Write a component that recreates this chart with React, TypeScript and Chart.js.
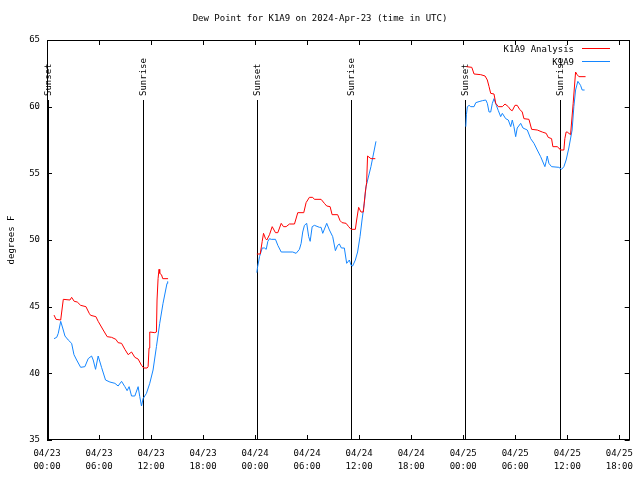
import React, { useEffect, useRef } from 'react';
import { Chart, registerables } from 'chart.js';

Chart.register(...registerables);

const TITLE = 'Dew Point for K1A9 on 2024-Apr-23 (time in UTC)';
const Y_TITLE = 'degrees F';
const SERIES_NAMES = ['K1A9 Analysis', 'K1A9'];
const SERIES_COLORS = ['#ff0000', '#1486ff'];

const X_MIN = 0;
const X_MAX = 67.2;
const X_TICK_HOURS = [0, 6, 12, 18, 24, 30, 36, 42, 48, 54, 60, 66];
const X_TICK_DATES = ['04/23', '04/23', '04/23', '04/23', '04/24', '04/24', '04/24', '04/24', '04/25', '04/25', '04/25', '04/25'];
const X_TICK_TIMES = ['00:00', '06:00', '12:00', '18:00', '00:00', '06:00', '12:00', '18:00', '00:00', '06:00', '12:00', '18:00'];
const Y_TICKS = [35, 40, 45, 50, 55, 60, 65];

const SUN_EVENT_HOURS = [0.12, 11.05, 24.2, 35.1, 48.2, 59.15];
const SUN_EVENT_LABELS = ['Sunset', 'Sunrise', 'Sunset', 'Sunrise', 'Sunset', 'Sunrise'];

// K1A9 Analysis (red)
const analysisHours1 = [0.81, 1.04, 1.58, 1.88, 2.65, 2.84, 3.14, 3.49, 3.88, 4.49, 4.87, 5.03, 5.64, 5.9, 6.48, 6.94, 7.45, 7.94, 8.2, 8.6, 8.98, 9.36, 9.75, 10.13, 10.51, 10.9, 11.16, 11.54, 11.66, 11.77, 11.85, 12.43, 12.62, 12.69, 12.81, 12.92, 13.0, 13.2, 13.35, 13.96];
const analysisValues1 = [44.37, 44.05, 44.0, 45.55, 45.5, 45.7, 45.4, 45.35, 45.1, 45.0, 44.5, 44.35, 44.25, 43.9, 43.25, 42.75, 42.7, 42.55, 42.3, 42.25, 41.8, 41.4, 41.6, 41.2, 41.07, 40.6, 40.4, 40.4, 40.5, 41.9, 43.1, 43.05, 43.1, 45.5, 47.1, 47.8, 47.5, 47.4, 47.1, 47.1];
const analysisHours2 = [24.2, 24.59, 24.82, 24.97, 25.2, 25.35, 25.66, 25.97, 26.35, 26.62, 27.01, 27.27, 27.58, 27.96, 28.54, 28.92, 29.61, 29.88, 30.26, 30.64, 30.84, 31.61, 31.99, 32.26, 32.65, 32.88, 33.52, 33.8, 34.03, 34.49, 34.79, 35.07, 35.56, 35.71, 35.94, 36.21, 36.48, 36.71, 36.86, 36.97, 37.36, 37.86];
const analysisValues2 = [48.95, 48.95, 49.9, 50.5, 50.1, 50.0, 50.4, 51.0, 50.55, 50.55, 51.25, 51.0, 51.0, 51.2, 51.2, 52.05, 52.05, 52.8, 53.2, 53.2, 53.05, 53.05, 52.75, 52.55, 52.5, 51.9, 51.9, 51.45, 51.3, 51.25, 51.0, 50.8, 50.8, 51.5, 52.45, 52.1, 52.1, 53.6, 54.3, 56.3, 56.1, 56.1];
const analysisHours3 = [48.37, 48.99, 49.25, 50.02, 50.52, 50.78, 50.98, 51.17, 51.55, 51.75, 52.05, 52.51, 52.82, 53.2, 53.48, 53.66, 53.97, 54.23, 54.51, 54.81, 55.0, 55.58, 55.89, 56.54, 57.11, 57.57, 57.8, 58.19, 58.34, 58.84, 59.03, 59.23, 59.61, 59.72, 59.87, 59.99, 60.38, 60.68, 60.96, 61.14, 61.34, 62.11];
const analysisValues3 = [63.0, 62.95, 62.45, 62.4, 62.3, 62.0, 61.5, 61.0, 60.95, 60.25, 60.0, 60.0, 60.2, 60.0, 59.75, 59.7, 60.1, 60.1, 59.8, 59.6, 59.1, 59.05, 58.3, 58.25, 58.1, 58.0, 57.7, 57.6, 57.0, 57.0, 56.9, 56.75, 56.75, 57.6, 58.1, 58.1, 57.9, 60.25, 62.6, 62.4, 62.25, 62.25];

// K1A9 observations (blue)
const obsHours1 = [0.81, 1.12, 1.3, 1.58, 1.81, 2.07, 2.45, 2.84, 3.11, 3.42, 3.88, 4.37, 4.75, 5.14, 5.33, 5.6, 5.9, 6.29, 6.75, 7.25, 7.83, 8.2, 8.6, 8.98, 9.24, 9.47, 9.75, 10.13, 10.51, 10.7, 10.9, 11.08, 11.47, 11.85, 12.23, 12.62, 13.0, 13.38, 13.84, 13.92];
const obsValues1 = [42.6, 42.7, 43.0, 43.9, 43.4, 42.8, 42.5, 42.25, 41.4, 41.0, 40.45, 40.5, 41.1, 41.3, 41.0, 40.3, 41.3, 40.45, 39.5, 39.35, 39.25, 39.05, 39.4, 39.0, 38.7, 39.0, 38.3, 38.3, 39.0, 38.25, 37.55, 38.1, 38.5, 39.25, 40.25, 42.0, 43.75, 45.25, 46.75, 46.9];
const obsHours2 = [24.2, 24.28, 24.51, 24.82, 25.09, 25.28, 25.47, 25.66, 25.86, 26.35, 26.62, 27.01, 28.34, 28.73, 29.11, 29.31, 29.49, 29.69, 29.95, 30.18, 30.35, 30.58, 30.84, 31.42, 31.61, 31.8, 32.26, 32.57, 32.95, 33.26, 33.52, 33.72, 33.95, 34.29, 34.56, 34.87, 35.07, 35.25, 35.56, 35.82, 36.1, 36.33, 36.59, 36.79, 37.36, 37.94];
const obsValues2 = [47.55, 47.95, 48.75, 49.4, 49.4, 49.3, 49.9, 50.1, 50.05, 50.05, 49.6, 49.1, 49.1, 49.0, 49.3, 49.75, 50.6, 51.1, 51.25, 50.25, 49.9, 51.0, 51.1, 50.95, 50.95, 50.5, 51.25, 50.75, 50.25, 49.2, 49.6, 49.7, 49.4, 49.4, 48.25, 48.5, 48.1, 48.05, 48.5, 49.1, 50.25, 51.5, 52.75, 54.0, 55.5, 57.4];
const obsHours3 = [48.3, 48.37, 48.48, 48.68, 48.87, 49.25, 49.45, 49.83, 50.21, 50.6, 50.78, 50.98, 51.17, 51.36, 51.55, 51.82, 52.05, 52.32, 52.51, 52.9, 53.2, 53.48, 53.66, 53.85, 54.05, 54.23, 54.63, 54.89, 55.39, 55.78, 56.16, 56.54, 56.93, 57.42, 57.57, 57.69, 57.88, 58.19, 59.03, 59.34, 59.61, 59.87, 60.18, 60.56, 60.76, 60.96, 61.22, 61.53, 61.72, 62.0];
const obsValues3 = [58.5, 59.4, 60.0, 60.1, 60.0, 60.0, 60.3, 60.38, 60.45, 60.5, 60.25, 59.6, 59.6, 60.25, 60.6, 60.1, 59.7, 59.25, 59.5, 59.1, 59.0, 58.5, 59.0, 58.5, 57.75, 58.4, 58.75, 58.4, 58.25, 57.6, 57.25, 56.75, 56.25, 55.5, 55.9, 56.3, 55.75, 55.5, 55.45, 55.3, 55.5, 56.0, 56.9, 58.25, 60.0, 61.25, 61.9, 61.6, 61.25, 61.25];

const FONT = "'DejaVu Sans Mono', monospace";
const FONT_SIZE = 9;

type Pt = { x: number; y: number | null };

function segmentsToPoints(segs: [number[], number[]][]): Pt[] {
  const out: Pt[] = [];
  segs.forEach(([hs, vs], i) => {
    if (i > 0) out.push({ x: (out[out.length - 1].x + hs[0]) / 2, y: null });
    hs.forEach((h, j) => out.push({ x: h, y: vs[j] }));
  });
  return out;
}

const decorPlugin = {
  id: 'decor',
  beforeDatasetsDraw(chart: any) {
    const { ctx, chartArea, scales } = chart;
    const xs = scales.x;
    ctx.save();
    ctx.strokeStyle = '#000';
    ctx.lineWidth = 1;
    ctx.fillStyle = '#000';
    ctx.font = `${FONT_SIZE}px ${FONT}`;
    SUN_EVENT_HOURS.forEach((h, i) => {
      const px = Math.round(xs.getPixelForValue(h)) + 0.5;
      ctx.beginPath();
      ctx.moveTo(px, 100);
      ctx.lineTo(px, chartArea.bottom);
      ctx.stroke();
      ctx.save();
      ctx.translate(px + 0.5, 96);
      ctx.rotate(-Math.PI / 2);
      ctx.textAlign = 'left';
      ctx.textBaseline = 'middle';
      ctx.fillText(SUN_EVENT_LABELS[i], 0, 0);
      ctx.restore();
    });
    ctx.restore();
  },
  afterDraw(chart: any) {
    const { ctx, chartArea, scales } = chart;
    const { left, right, top, bottom } = chartArea;
    ctx.save();
    ctx.strokeStyle = '#000';
    ctx.lineWidth = 1;
    ctx.strokeRect(Math.round(left) + 0.5, Math.round(top) + 0.5, Math.round(right - left) - 1, Math.round(bottom - top) - 1);
    ctx.beginPath();
    Y_TICKS.forEach((v) => {
      const py = Math.round(scales.y.getPixelForValue(v)) + 0.5;
      ctx.moveTo(left, py); ctx.lineTo(left + 5, py);
      ctx.moveTo(right, py); ctx.lineTo(right - 5, py);
    });
    X_TICK_HOURS.forEach((h) => {
      const px = Math.round(scales.x.getPixelForValue(h)) + 0.5;
      ctx.moveTo(px, bottom); ctx.lineTo(px, bottom - 5);
      ctx.moveTo(px, top); ctx.lineTo(px, top + 5);
    });
    ctx.stroke();

    ctx.fillStyle = '#000';
    ctx.font = `${FONT_SIZE}px ${FONT}`;
    ctx.textAlign = 'center';
    ctx.textBaseline = 'middle';
    ctx.fillText(TITLE, 320, 19);

    ctx.save();
    ctx.translate(12, 240);
    ctx.rotate(-Math.PI / 2);
    ctx.fillText(Y_TITLE, 0, 0);
    ctx.restore();

    // legend
    SERIES_NAMES.forEach((name, i) => {
      const y = 50 + i * 13;
      ctx.textAlign = 'right';
      ctx.fillStyle = '#000';
      ctx.fillText(name, 574, y);
      ctx.strokeStyle = SERIES_COLORS[i];
      ctx.beginPath();
      ctx.moveTo(582, Math.round(y - 2) + 0.5);
      ctx.lineTo(610, Math.round(y - 2) + 0.5);
      ctx.stroke();
    });
    ctx.restore();
  },
};

export default function App() {
  const ref = useRef<HTMLCanvasElement | null>(null);
  useEffect(() => {
    if (!ref.current) return;
    const chart = new Chart(ref.current, {
      type: 'line',
      data: {
        datasets: [
          {
            label: SERIES_NAMES[0],
            data: segmentsToPoints([[analysisHours1, analysisValues1], [analysisHours2, analysisValues2], [analysisHours3, analysisValues3]]) as any,
            borderColor: SERIES_COLORS[0],
            borderWidth: 1,
            pointRadius: 0,
            spanGaps: false,
            tension: 0,
          },
          {
            label: SERIES_NAMES[1],
            data: segmentsToPoints([[obsHours1, obsValues1], [obsHours2, obsValues2], [obsHours3, obsValues3]]) as any,
            borderColor: SERIES_COLORS[1],
            borderWidth: 1,
            pointRadius: 0,
            spanGaps: false,
            tension: 0,
          },
        ],
      },
      options: {
        animation: false,
        responsive: false,
        layout: { padding: { top: 40, right: 9, left: 0, bottom: 0 } },
        plugins: { legend: { display: false }, tooltip: { enabled: false }, title: { display: false } },
        scales: {
          x: {
            type: 'linear',
            min: X_MIN,
            max: X_MAX,
            grid: { display: false, drawTicks: false },
            border: { display: false },
            afterFit: (s: any) => { s.height = 40; },
            afterBuildTicks: (s: any) => { s.ticks = X_TICK_HOURS.map((v) => ({ value: v })); },
            ticks: {
              autoSkip: false,
              maxRotation: 0,
              padding: 7,
              color: '#000',
              font: { family: FONT, size: FONT_SIZE, lineHeight: 1.45 },
              callback: (v: any) => {
                const i = X_TICK_HOURS.indexOf(Number(v));
                return i >= 0 ? [X_TICK_DATES[i], X_TICK_TIMES[i]] : '';
              },
            },
          },
          y: {
            type: 'linear',
            min: 35,
            max: 65,
            grid: { display: false, drawTicks: false },
            border: { display: false },
            afterFit: (s: any) => { s.width = 47; },
            afterBuildTicks: (s: any) => { s.ticks = Y_TICKS.map((v) => ({ value: v })); },
            ticks: {
              padding: 7,
              color: '#000',
              font: { family: FONT, size: FONT_SIZE },
              callback: (v: any) => String(v),
            },
          },
        },
      },
      plugins: [decorPlugin],
    });
    return () => chart.destroy();
  }, []);
  return (
    <div style={{ position: 'absolute', left: 0, top: 0, width: 640, height: 480, background: '#fff' }}>
      <canvas ref={ref} width={640} height={480} style={{ display: 'block', width: 640, height: 480 }} />
    </div>
  );
}
